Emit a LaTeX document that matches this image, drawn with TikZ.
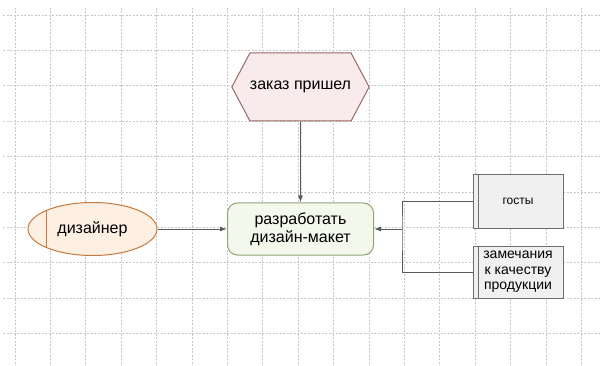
\documentclass[tikz,border=0pt]{standalone}
\usepackage{fontspec}
\setmainfont{Liberation Sans}
\usetikzlibrary{shapes.geometric, shapes.symbols, arrows.meta}
\definecolor{gridgray}{HTML}{C8C8C8}
\definecolor{linegray}{HTML}{5A5A5A}
\definecolor{eventfill}{HTML}{F9EBEB}
\definecolor{eventdraw}{HTML}{9A6666}
\definecolor{rolefill}{HTML}{FDEFE2}
\definecolor{roledraw}{HTML}{C47A3E}
\definecolor{actionfill}{HTML}{F3F8EB}
\definecolor{actiondraw}{HTML}{8EA676}
\definecolor{docfill}{HTML}{F0F0F0}
\definecolor{docdraw}{HTML}{6E6E6E}
\begin{document}
\begin{tikzpicture}[x=1pt, y=-1pt, >={Latex[length=7pt, width=5pt]},
    grid line/.style={gridgray, line width=0.8pt, dash pattern=on 2pt off 1.5pt},
    link/.style={linegray, line width=1pt},
    event node/.style={signal, signal to=west and east, signal pointer angle=124, draw=eventdraw, fill=eventfill, line width=1pt, minimum width=134pt, minimum height=68pt, inner sep=0pt, font=\fontsize{16}{18}\selectfont},
    role node/.style={ellipse, draw=roledraw, fill=rolefill, line width=1pt, minimum width=129pt, minimum height=53pt, inner sep=0pt, font=\fontsize{16}{18}\selectfont,
        path picture={\draw[roledraw, line width=1pt] ([xshift=18pt]path picture bounding box.north west) -- ([xshift=18pt]path picture bounding box.south west);}},
    action node/.style={rectangle, rounded corners=10pt, draw=actiondraw, fill=actionfill, line width=1pt, minimum width=146pt, minimum height=52pt, inner sep=0pt, align=center, font=\fontsize{16}{18}\selectfont},
    doc node/.style={rectangle, draw=docdraw, fill=docfill, line width=1pt, minimum width=90pt, minimum height=52pt, inner sep=0pt, align=center, font=\fontsize{14}{15.5}\selectfont,
        path picture={\draw[docdraw, line width=0.8pt] ([xshift=5pt]path picture bounding box.north west) -- ([xshift=5pt]path picture bounding box.south west);}}]

                \useasboundingbox (0, 0) rectangle (602, 366);
                \foreach \i in {0,...,16} \draw[grid line] (15+35.4*\i, 8) -- (15+35.4*\i, 366);
                \foreach \j in {0,...,9} \draw[grid line] (3, 15+35.4*\j) -- (602, 15+35.4*\j);

                \node[event node] at (300.5, 87) (order) {заказ пришел};
                \node[role node] at (92.5, 229) (designer) {дизайнер};
                \node[action node] at (300.5, 229) (layout) {разработать\\дизайн-макет};
                \node[doc node, minimum height=53pt, font=\fontsize{12}{14}\selectfont] at (518, 201.5) (gost) {госты};
                \node[doc node] at (518, 272) (remarks) {замечания\\к качеству\\продукции};
                \coordinate (fork) at (402, 229);

                \path[->, link] (order) edge (layout);
                \path[->, link] (designer) edge (layout);
                \path[->, link] (fork) edge (layout);
                \draw[link] (gost) -| (fork) |- (remarks);
            \end{tikzpicture}
\end{document}
